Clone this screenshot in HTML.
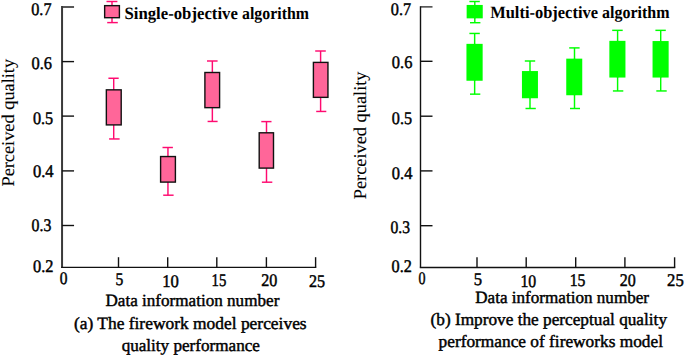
<!DOCTYPE html>
<html><head><meta charset="utf-8"><style>
html,body{margin:0;padding:0;background:#fff;}
body{width:685px;height:356px;overflow:hidden;}
svg{display:block;}
text{font-family:"Liberation Serif",serif;fill:#000;text-rendering:geometricPrecision;}
</style></head><body>
<svg width="685" height="356" viewBox="0 0 685 356">
<rect width="685" height="356" fill="#fff"/>
<line x1="62.05" y1="6.0" x2="62.05" y2="267.4" stroke="#3a3a3a" stroke-width="2.0"/><line x1="62.05" y1="7.0" x2="74.05" y2="7.0" stroke="#3a3a3a" stroke-width="1.7"/><line x1="61.05" y1="267.4" x2="316.3" y2="267.4" stroke="#111" stroke-width="1.4"/><line x1="62.05" y1="61.6" x2="74.05" y2="61.6" stroke="#111" stroke-width="1.4"/><line x1="62.05" y1="116.1" x2="74.05" y2="116.1" stroke="#111" stroke-width="1.4"/><line x1="62.05" y1="170.9" x2="74.05" y2="170.9" stroke="#111" stroke-width="1.4"/><line x1="62.05" y1="225.5" x2="74.05" y2="225.5" stroke="#111" stroke-width="1.4"/><line x1="118.5" y1="267.4" x2="118.5" y2="257.2" stroke="#111" stroke-width="1.4"/><line x1="167.7" y1="267.4" x2="167.7" y2="257.2" stroke="#111" stroke-width="1.4"/><line x1="216.8" y1="267.4" x2="216.8" y2="257.2" stroke="#111" stroke-width="1.4"/><line x1="266.4" y1="267.4" x2="266.4" y2="257.2" stroke="#111" stroke-width="1.4"/><line x1="315.6" y1="267.4" x2="315.6" y2="257.2" stroke="#111" stroke-width="1.4"/>
<line x1="113.7" y1="78.25" x2="113.7" y2="89.85" stroke="#FF0A70" stroke-width="1.45"/><line x1="113.7" y1="124.9" x2="113.7" y2="138.95" stroke="#FF0A70" stroke-width="1.45"/><line x1="108.40" y1="78.25" x2="118.70" y2="78.25" stroke="#FF0A70" stroke-width="1.45"/><line x1="109.10" y1="138.95" x2="119.60" y2="138.95" stroke="#FF0A70" stroke-width="1.45"/><rect x="106.35" y="89.85" width="14.85" height="35.05" fill="#FF6699" stroke="#111" stroke-width="1.4"/>
<line x1="167.95" y1="147.5" x2="167.95" y2="156.55" stroke="#FF0A70" stroke-width="1.45"/><line x1="167.95" y1="182.1" x2="167.95" y2="195.2" stroke="#FF0A70" stroke-width="1.45"/><line x1="162.50" y1="147.5" x2="172.90" y2="147.5" stroke="#FF0A70" stroke-width="1.45"/><line x1="163.20" y1="195.2" x2="173.60" y2="195.2" stroke="#FF0A70" stroke-width="1.45"/><rect x="160.6" y="156.55" width="14.80" height="25.55" fill="#FF6699" stroke="#111" stroke-width="1.4"/>
<line x1="212.35" y1="61.0" x2="212.35" y2="72.5" stroke="#FF0A70" stroke-width="1.45"/><line x1="212.35" y1="107.65" x2="212.35" y2="121.45" stroke="#FF0A70" stroke-width="1.45"/><line x1="207.00" y1="61.0" x2="217.60" y2="61.0" stroke="#FF0A70" stroke-width="1.45"/><line x1="207.60" y1="121.45" x2="217.60" y2="121.45" stroke="#FF0A70" stroke-width="1.45"/><rect x="204.9" y="72.5" width="14.70" height="35.15" fill="#FF6699" stroke="#111" stroke-width="1.4"/>
<line x1="266.5" y1="121.6" x2="266.5" y2="132.8" stroke="#FF0A70" stroke-width="1.45"/><line x1="266.5" y1="168.1" x2="266.5" y2="182.2" stroke="#FF0A70" stroke-width="1.45"/><line x1="261.30" y1="121.6" x2="271.50" y2="121.6" stroke="#FF0A70" stroke-width="1.45"/><line x1="261.90" y1="182.2" x2="272.30" y2="182.2" stroke="#FF0A70" stroke-width="1.45"/><rect x="259.2" y="132.8" width="14.30" height="35.30" fill="#FF6699" stroke="#111" stroke-width="1.4"/>
<line x1="320.6" y1="51.0" x2="320.6" y2="62.4" stroke="#FF0A70" stroke-width="1.45"/><line x1="320.6" y1="97.35" x2="320.6" y2="111.45" stroke="#FF0A70" stroke-width="1.45"/><line x1="315.20" y1="51.0" x2="325.80" y2="51.0" stroke="#FF0A70" stroke-width="1.45"/><line x1="316.20" y1="111.45" x2="326.30" y2="111.45" stroke="#FF0A70" stroke-width="1.45"/><rect x="313.4" y="62.4" width="14.55" height="34.95" fill="#FF6699" stroke="#111" stroke-width="1.4"/>
<line x1="112.0" y1="1.5" x2="112.0" y2="5.65" stroke="#FF0A70" stroke-width="1.45"/><line x1="112.0" y1="17.7" x2="112.0" y2="22.6" stroke="#FF0A70" stroke-width="1.45"/><line x1="106.50" y1="1.5" x2="117.40" y2="1.5" stroke="#FF0A70" stroke-width="1.45"/><line x1="107.20" y1="22.6" x2="117.80" y2="22.6" stroke="#FF0A70" stroke-width="1.45"/><rect x="104.65" y="5.65" width="14.75" height="12.05" fill="#FF6699" stroke="#111" stroke-width="1.4"/>
<line x1="420.5" y1="6.2" x2="420.5" y2="267.5" stroke="#111" stroke-width="1.4"/><line x1="420.5" y1="6.9" x2="432.5" y2="6.9" stroke="#111" stroke-width="1.19"/><line x1="419.8" y1="267.5" x2="675.3000000000001" y2="267.5" stroke="#111" stroke-width="1.4"/><line x1="420.5" y1="61.3" x2="432.5" y2="61.3" stroke="#111" stroke-width="1.4"/><line x1="420.5" y1="116.2" x2="432.5" y2="116.2" stroke="#111" stroke-width="1.4"/><line x1="420.5" y1="170.9" x2="432.5" y2="170.9" stroke="#111" stroke-width="1.4"/><line x1="420.5" y1="225.7" x2="432.5" y2="225.7" stroke="#111" stroke-width="1.4"/><line x1="477.0" y1="267.5" x2="477.0" y2="257.3" stroke="#111" stroke-width="1.4"/><line x1="526.2" y1="267.5" x2="526.2" y2="257.3" stroke="#111" stroke-width="1.4"/><line x1="575.7" y1="267.5" x2="575.7" y2="257.3" stroke="#111" stroke-width="1.4"/><line x1="624.9" y1="267.5" x2="624.9" y2="257.3" stroke="#111" stroke-width="1.4"/><line x1="674.6" y1="267.5" x2="674.6" y2="257.3" stroke="#111" stroke-width="1.4"/>
<line x1="474.65" y1="33.45" x2="474.65" y2="80.8" stroke="#00FF00" stroke-width="1.45"/><line x1="474.65" y1="43.8" x2="474.65" y2="94.15" stroke="#00FF00" stroke-width="1.45"/><line x1="469.40" y1="33.45" x2="479.80" y2="33.45" stroke="#00FF00" stroke-width="1.45"/><line x1="470.00" y1="94.15" x2="480.30" y2="94.15" stroke="#00FF00" stroke-width="1.45"/><rect x="466.45" y="43.85" width="16.20" height="36.90" fill="#00FF00"/>
<line x1="530.0" y1="61.0" x2="530.0" y2="98.3" stroke="#00FF00" stroke-width="1.45"/><line x1="530.0" y1="71.0" x2="530.0" y2="108.5" stroke="#00FF00" stroke-width="1.45"/><line x1="524.80" y1="61.0" x2="535.20" y2="61.0" stroke="#00FF00" stroke-width="1.45"/><line x1="525.50" y1="108.5" x2="535.80" y2="108.5" stroke="#00FF00" stroke-width="1.45"/><rect x="521.95" y="71.05" width="16.00" height="27.20" fill="#00FF00"/>
<line x1="574.5" y1="47.9" x2="574.5" y2="95.3" stroke="#00FF00" stroke-width="1.45"/><line x1="574.5" y1="58.6" x2="574.5" y2="108.5" stroke="#00FF00" stroke-width="1.45"/><line x1="569.20" y1="47.9" x2="579.60" y2="47.9" stroke="#00FF00" stroke-width="1.45"/><line x1="570.00" y1="108.5" x2="580.00" y2="108.5" stroke="#00FF00" stroke-width="1.45"/><rect x="566.25" y="58.65" width="16.00" height="36.60" fill="#00FF00"/>
<line x1="617.6" y1="30.35" x2="617.6" y2="77.6" stroke="#00FF00" stroke-width="1.45"/><line x1="617.6" y1="40.8" x2="617.6" y2="90.95" stroke="#00FF00" stroke-width="1.45"/><line x1="612.20" y1="30.35" x2="622.70" y2="30.35" stroke="#00FF00" stroke-width="1.45"/><line x1="612.90" y1="90.95" x2="623.30" y2="90.95" stroke="#00FF00" stroke-width="1.45"/><rect x="609.35" y="40.85" width="16.10" height="36.70" fill="#00FF00"/>
<line x1="660.7" y1="30.35" x2="660.7" y2="77.6" stroke="#00FF00" stroke-width="1.45"/><line x1="660.7" y1="41.0" x2="660.7" y2="90.95" stroke="#00FF00" stroke-width="1.45"/><line x1="655.40" y1="30.35" x2="665.80" y2="30.35" stroke="#00FF00" stroke-width="1.45"/><line x1="656.30" y1="90.95" x2="666.70" y2="90.95" stroke="#00FF00" stroke-width="1.45"/><rect x="652.55" y="41.05" width="16.10" height="36.50" fill="#00FF00"/>
<line x1="474.8" y1="1.5" x2="474.8" y2="18.4" stroke="#00FF00" stroke-width="1.45"/><line x1="474.8" y1="4.9" x2="474.8" y2="22.7" stroke="#00FF00" stroke-width="1.45"/><line x1="469.40" y1="1.5" x2="479.80" y2="1.5" stroke="#00FF00" stroke-width="1.45"/><line x1="470.00" y1="22.7" x2="480.40" y2="22.7" stroke="#00FF00" stroke-width="1.45"/><rect x="466.65" y="4.95" width="16.10" height="13.40" fill="#00FF00"/>
<text x="31.25" y="15.45" font-size="17.8" font-weight="normal" textLength="20.31" lengthAdjust="spacingAndGlyphs" stroke="#000" stroke-width="0.45">0.7</text>
<text x="31.55" y="68.9" font-size="17.8" font-weight="normal" textLength="20.52" lengthAdjust="spacingAndGlyphs" stroke="#000" stroke-width="0.45">0.6</text>
<text x="32.95" y="124.3" font-size="17.8" font-weight="normal" textLength="20.31" lengthAdjust="spacingAndGlyphs" stroke="#000" stroke-width="0.45">0.5</text>
<text x="32.95" y="176.8" font-size="17.8" font-weight="normal" textLength="20.72" lengthAdjust="spacingAndGlyphs" stroke="#000" stroke-width="0.45">0.4</text>
<text x="31.55" y="231.45" font-size="17.8" font-weight="normal" textLength="19.81" lengthAdjust="spacingAndGlyphs" stroke="#000" stroke-width="0.45">0.3</text>
<text x="32.95" y="272.25" font-size="17.8" font-weight="normal" textLength="20.52" lengthAdjust="spacingAndGlyphs" stroke="#000" stroke-width="0.45">0.2</text>
<text x="59.75" y="283.8" font-size="17.8" font-weight="normal" textLength="7.71" lengthAdjust="spacingAndGlyphs" stroke="#000" stroke-width="0.45">0</text>
<text x="115.57" y="285.45" font-size="17.8" font-weight="normal" textLength="7.78" lengthAdjust="spacingAndGlyphs" stroke="#000" stroke-width="0.45">5</text>
<text x="162.31" y="286.65" font-size="17.8" font-weight="normal" textLength="16.63" lengthAdjust="spacingAndGlyphs" stroke="#000" stroke-width="0.45">10</text>
<text x="211.52" y="285.65" font-size="17.8" font-weight="normal" textLength="14.75" lengthAdjust="spacingAndGlyphs" stroke="#000" stroke-width="0.45">15</text>
<text x="261.15" y="286.05" font-size="17.8" font-weight="normal" textLength="16.1" lengthAdjust="spacingAndGlyphs" stroke="#000" stroke-width="0.45">20</text>
<text x="309.05" y="286.75" font-size="17.8" font-weight="normal" textLength="16.1" lengthAdjust="spacingAndGlyphs" stroke="#000" stroke-width="0.45">25</text>
<text x="390.85" y="14.85" font-size="17.8" font-weight="normal" textLength="20.31" lengthAdjust="spacingAndGlyphs" stroke="#000" stroke-width="0.45">0.7</text>
<text x="391.85" y="68.05" font-size="17.8" font-weight="normal" textLength="20.52" lengthAdjust="spacingAndGlyphs" stroke="#000" stroke-width="0.45">0.6</text>
<text x="391.85" y="123.75" font-size="17.8" font-weight="normal" textLength="20.21" lengthAdjust="spacingAndGlyphs" stroke="#000" stroke-width="0.45">0.5</text>
<text x="391.85" y="179.0" font-size="17.8" font-weight="normal" textLength="20.52" lengthAdjust="spacingAndGlyphs" stroke="#000" stroke-width="0.45">0.4</text>
<text x="390.45" y="232.7" font-size="17.8" font-weight="normal" textLength="19.51" lengthAdjust="spacingAndGlyphs" stroke="#000" stroke-width="0.45">0.3</text>
<text x="391.55" y="271.75" font-size="17.8" font-weight="normal" textLength="20.31" lengthAdjust="spacingAndGlyphs" stroke="#000" stroke-width="0.45">0.2</text>
<text x="418.45" y="284.3" font-size="17.8" font-weight="normal" textLength="7.01" lengthAdjust="spacingAndGlyphs" stroke="#000" stroke-width="0.45">0</text>
<text x="473.71" y="285.45" font-size="17.8" font-weight="normal" textLength="8.33" lengthAdjust="spacingAndGlyphs" stroke="#000" stroke-width="0.45">5</text>
<text x="520.46" y="286.65" font-size="17.8" font-weight="normal" textLength="15.79" lengthAdjust="spacingAndGlyphs" stroke="#000" stroke-width="0.45">10</text>
<text x="569.77" y="285.75" font-size="17.8" font-weight="normal" textLength="15.69" lengthAdjust="spacingAndGlyphs" stroke="#000" stroke-width="0.45">15</text>
<text x="619.65" y="285.75" font-size="17.8" font-weight="normal" textLength="16.0" lengthAdjust="spacingAndGlyphs" stroke="#000" stroke-width="0.45">20</text>
<text x="667.05" y="286.3" font-size="17.8" font-weight="normal" textLength="16.69" lengthAdjust="spacingAndGlyphs" stroke="#000" stroke-width="0.45">25</text>
<text x="124.45" y="19.1" font-size="17.3" font-weight="bold" textLength="113.41" lengthAdjust="spacingAndGlyphs" stroke="#000" stroke-width="0.0">Single-objective</text>
<text x="242.05" y="19.1" font-size="17.3" font-weight="bold" textLength="66.87" lengthAdjust="spacingAndGlyphs" stroke="#000" stroke-width="0.0">algorithm</text>
<text x="490.15" y="17.7" font-size="17.3" font-weight="bold" textLength="107.85" lengthAdjust="spacingAndGlyphs" stroke="#000" stroke-width="0.0">Multi-objective</text>
<text x="602.05" y="17.7" font-size="17.3" font-weight="bold" textLength="67.47" lengthAdjust="spacingAndGlyphs" stroke="#000" stroke-width="0.0">algorithm</text>
<text x="105.45" y="305.8" font-size="17.2" font-weight="normal" textLength="173.89" lengthAdjust="spacingAndGlyphs" stroke="#000" stroke-width="0.45">Data information number</text>
<text x="73.95" y="328.8" font-size="17.2" font-weight="normal" textLength="232.7" lengthAdjust="spacingAndGlyphs" stroke="#000" stroke-width="0.45">(a) The firework model perceives</text>
<text x="121.65" y="351.1" font-size="17.2" font-weight="normal" textLength="138.27" lengthAdjust="spacingAndGlyphs" stroke="#000" stroke-width="0.45">quality performance</text>
<text x="475.25" y="302.9" font-size="17.2" font-weight="normal" textLength="173.79" lengthAdjust="spacingAndGlyphs" stroke="#000" stroke-width="0.45">Data information number</text>
<text x="430.55" y="325.1" font-size="17.2" font-weight="normal" textLength="236.47" lengthAdjust="spacingAndGlyphs" stroke="#000" stroke-width="0.45">(b) Improve the perceptual quality</text>
<text x="438.55" y="346.8" font-size="17.2" font-weight="normal" textLength="224.48" lengthAdjust="spacingAndGlyphs" stroke="#000" stroke-width="0.45">performance of fireworks model</text>
<text transform="translate(14.3,186.55) rotate(-90)" font-size="18" font-weight="normal" textLength="127.67" lengthAdjust="spacingAndGlyphs" stroke="#000" stroke-width="0.1">Perceived quality</text>
<text transform="translate(366.4,199.25) rotate(-90)" font-size="18" font-weight="normal" textLength="127.77" lengthAdjust="spacingAndGlyphs" stroke="#000" stroke-width="0.1">Perceived quality</text>
</svg>
</body></html>
